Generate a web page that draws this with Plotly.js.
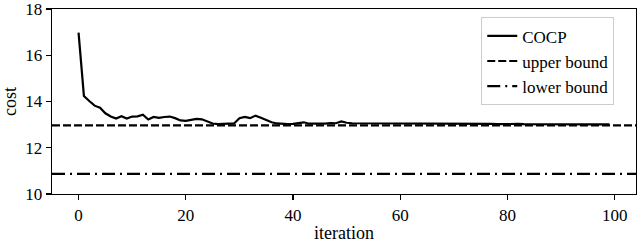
<!DOCTYPE html>
<html>
<head>
<meta charset="utf-8">
<script src="https://cdn.plot.ly/plotly-3.0.1.min.js"></script>
<style>html,body{margin:0;padding:0;background:#fff;}#chart{width:640px;height:243px;}</style>
</head>
<body>
<div id="chart"></div>
<script>
const iterations = Array.from({length: 100}, (_, i) => i);
const cocpCost = [
  16.98, 14.24, 14.02, 13.82, 13.73, 13.49, 13.35, 13.26, 13.36, 13.26,
  13.35, 13.36, 13.43, 13.22, 13.33, 13.29, 13.33, 13.35, 13.28, 13.18,
  13.16, 13.19, 13.25, 13.23, 13.13, 13.05, 13.02, 13.02, 13.03, 13.05,
  13.28, 13.33, 13.28, 13.39, 13.30, 13.19, 13.10, 13.05, 13.02, 13.02,
  13.03, 13.08, 13.10, 13.04, 13.03, 13.05, 13.04, 13.07, 13.06, 13.14,
  13.08, 13.06, 13.06, 13.05, 13.06, 13.05, 13.05, 13.04, 13.05, 13.05,
  13.04, 13.05, 13.04, 13.04, 13.05, 13.04, 13.04, 13.03, 13.04, 13.04,
  13.03, 13.04, 13.03, 13.03, 13.04, 13.03, 13.03, 13.03, 13.02, 13.03,
  13.03, 13.02, 13.03, 13.02, 13.02, 13.02, 13.02, 13.02, 13.01, 13.02,
  13.02, 13.01, 13.02, 13.01, 13.01, 13.01, 13.01, 13.01, 13.01, 13.01
];
const upperBound = 12.97;
const lowerBound = 10.87;
const seriesNames = ["COCP", "upper bound", "lower bound"];
const xRange = [-4.95, 103.95];
const yRange = [10, 18];
const xTicks = [0, 20, 40, 60, 80, 100];
const yTicks = [10, 12, 14, 16, 18];

const FONT = "'Liberation Serif', 'Times New Roman', serif";
const FS = 17;
const traces = [
  {x: iterations, y: cocpCost, name: seriesNames[0], mode: "lines",
   line: {color: "#000", width: 2.2}},
  {x: xRange, y: [upperBound, upperBound], name: seriesNames[1], mode: "lines",
   line: {color: "#000", width: 2.2, dash: "8px,3px"}},
  {x: xRange, y: [lowerBound, lowerBound], name: seriesNames[2], mode: "lines",
   line: {color: "#000", width: 2.2, dash: "13px,5px,2px,5px"}}
];
const axisCommon = {
  showline: true, mirror: true, linecolor: "#000", linewidth: 1.3,
  ticks: "outside", ticklen: 5, tickwidth: 1.3, tickcolor: "#000",
  showgrid: false, zeroline: false, ticklabeloverflow: "allow",
  tickfont: {family: FONT, size: FS, color: "#000"}
};
const layout = {
  width: 640, height: 243,
  margin: {l: 52, r: 4, t: 9, b: 49},
  paper_bgcolor: "#fff", plot_bgcolor: "#fff",
  font: {family: FONT, size: FS, color: "#000"},
  showlegend: true,
  legend: {x: 0.735, xanchor: "left", y: 0.955, yanchor: "top",
           bgcolor: "rgba(255,255,255,0.9)", bordercolor: "#cccccc", borderwidth: 1,
           font: {family: FONT, size: 17, color: "#000"}},
  xaxis: Object.assign({}, axisCommon, {range: xRange, tickvals: xTicks,
           title: {text: "iteration", font: {family: FONT, size: 18, color: "#000"}, standoff: 8}}),
  yaxis: Object.assign({}, axisCommon, {range: yRange, tickvals: yTicks,
           title: {text: "cost", font: {family: FONT, size: 18, color: "#000"}, standoff: 6}})
};
Plotly.newPlot("chart", traces, layout, {displayModeBar: false, staticPlot: true});
</script>
</body>
</html>
